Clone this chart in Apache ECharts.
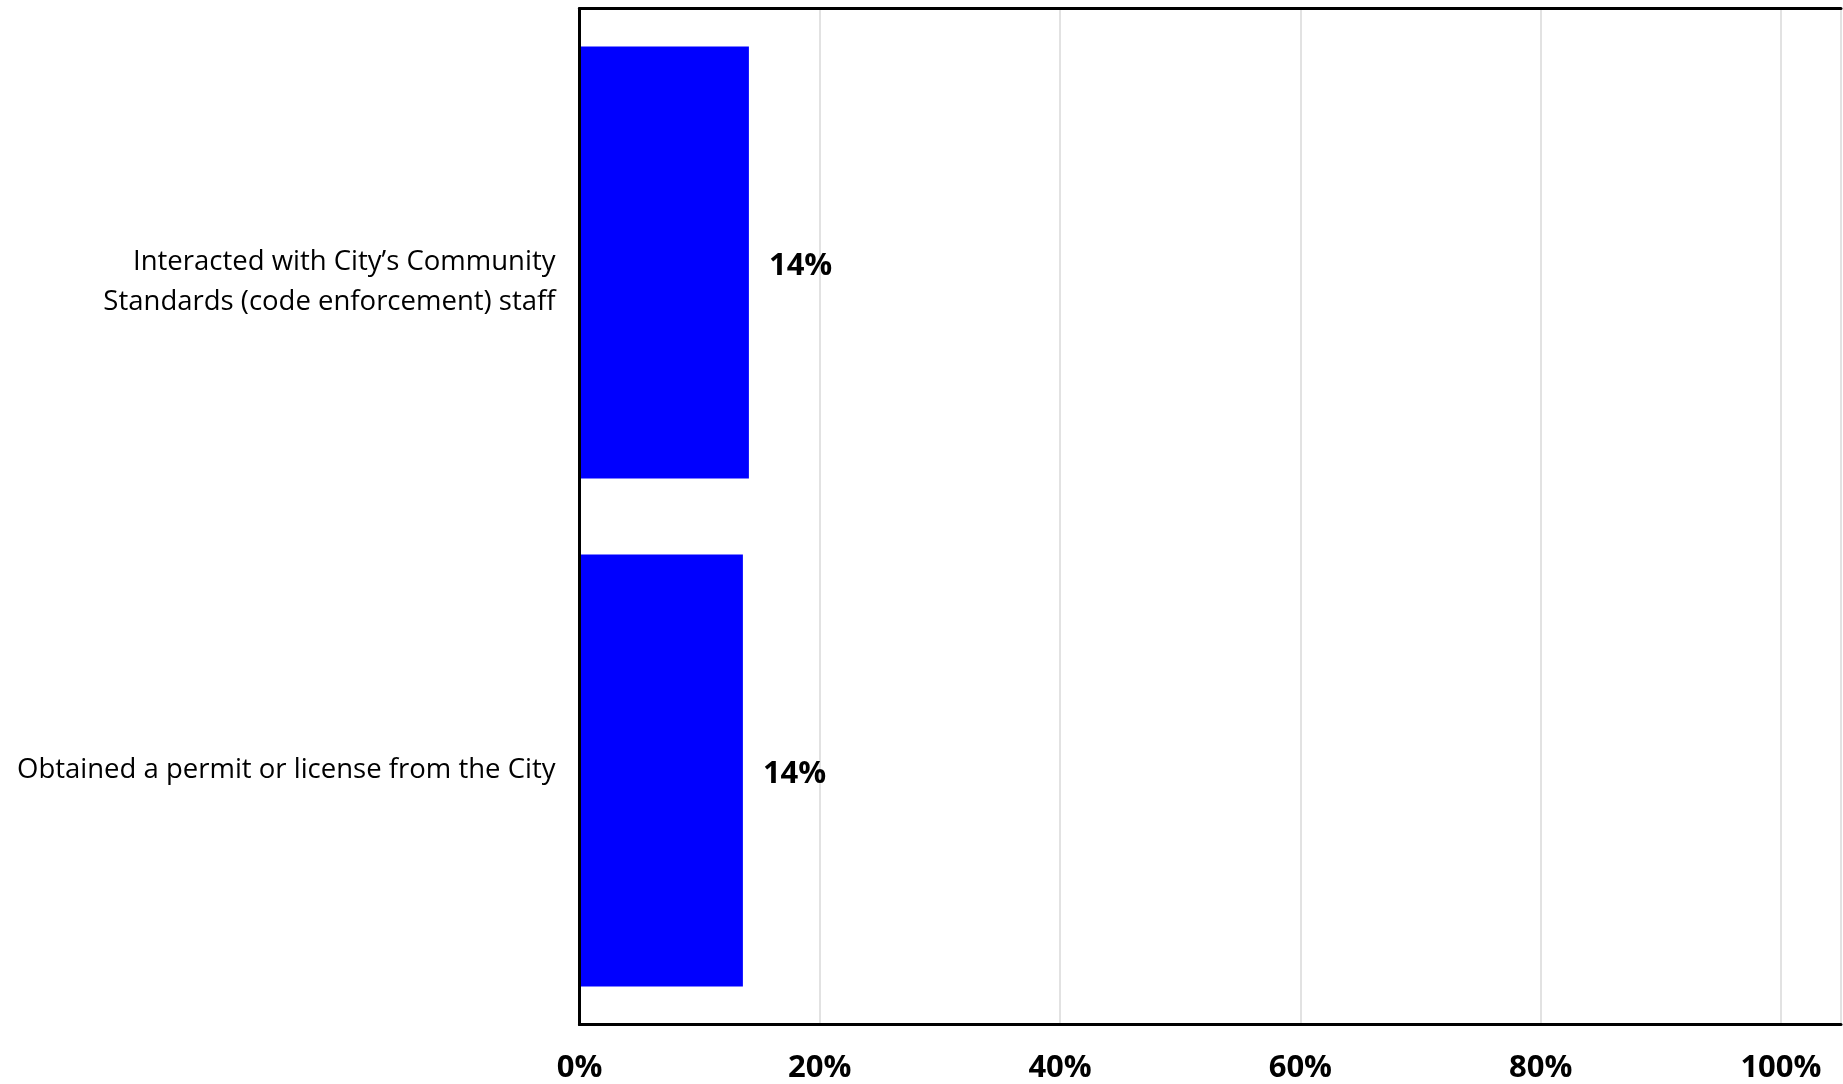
<!DOCTYPE html>
<html>
<head>
<meta charset="utf-8">
<script src="https://cdn.jsdelivr.net/npm/echarts@6/dist/echarts.min.js"></script>
<style>
  html, body { margin: 0; padding: 0; background: #ffffff; }
  #chart { width: 1843px; height: 1084px; }
</style>
</head>
<body>
<div id="chart"></div>
<script>
// Categories listed top to bottom
const categories = [
  'Interacted with City\u2019s Community\nStandards (code enforcement) staff',
  'Obtained a permit or license from the City'
];
// Share of respondents, percent
const values = [14.1, 13.6];
// Axis tick values, percent
const tickValues = [0, 20, 40, 60, 80, 100];

const FONT = '"Open Sans", "Noto Sans", sans-serif';
const chart = echarts.init(document.getElementById('chart'));

chart.setOption({
  backgroundColor: '#ffffff',
  animation: false,
  grid: { left: 579.5, top: 8.5, right: 2, bottom: 59, containLabel: false },
  xAxis: [
    {
      type: 'value',
      min: 0,
      max: 105,
      interval: 20,
      z: 2,
      axisLine: { show: true, lineStyle: { color: '#000000', width: 3 } },
      axisTick: { show: false },
      splitLine: { show: true, lineStyle: { color: '#d9d9d9', width: 1.5 } },
      axisLabel: {
        show: true,
        showMaxLabel: false,
        margin: 44,
        verticalAlign: 'middle',
        fontFamily: FONT,
        fontWeight: 'bold',
        fontSize: 31,
        color: '#000000',
        formatter: function (v) {
          return tickValues.indexOf(v) >= 0 ? v + '%' : '';
        }
      }
    },
    {
      type: 'value',
      position: 'top',
      min: 0,
      max: 105,
      z: 6,
      axisLine: { show: true, lineStyle: { color: '#000000', width: 3 } },
      axisTick: { show: false },
      axisLabel: { show: false },
      splitLine: { show: false }
    }
  ],
  yAxis: [
    {
      type: 'category',
      data: categories,
      inverse: true,
      z: 6,
      axisLine: { show: true, lineStyle: { color: '#000000', width: 3 } },
      axisTick: { show: false },
      splitLine: { show: false },
      axisLabel: {
        margin: 24,
        fontFamily: FONT,
        fontSize: 27.5,
        lineHeight: 40,
        padding: [9, 0, 0, 0],
        color: '#000000',
        align: 'right',
        formatter: function (v) {
          // two-line names sit a line lower in their band
          return v.indexOf('\n') >= 0 ? '\n' + v : v;
        }
      }
    },
    {
      type: 'category',
      position: 'right',
      data: categories,
      inverse: true,
      z: 6,
      axisLine: { show: true, lineStyle: { color: '#000000', width: 3 } },
      axisTick: { show: false },
      axisLabel: { show: false },
      splitLine: { show: false }
    }
  ],
  series: [
    {
      type: 'bar',
      data: values,
      xAxisIndex: 0,
      yAxisIndex: 0,
      barCategoryGap: '15%',
      itemStyle: { color: '#0000ff' },
      label: {
        show: true,
        position: 'right',
        distance: 20,
        offset: [0, 4],
        fontFamily: FONT,
        fontWeight: 'bold',
        fontSize: 31,
        color: '#000000',
        formatter: function (p) { return Math.round(p.value) + '%'; }
      }
    }
  ]
});
</script>
</body>
</html>
